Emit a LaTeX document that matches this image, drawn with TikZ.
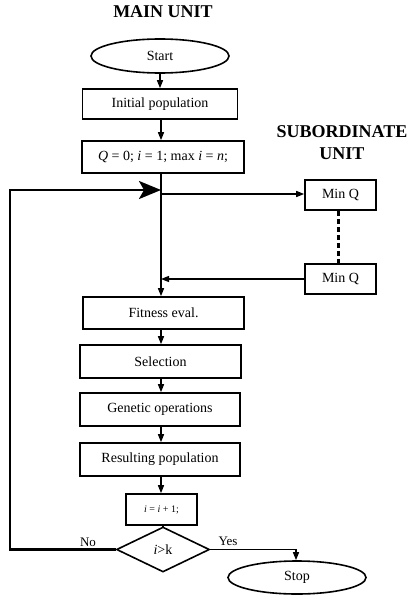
\documentclass[tikz,border=0pt]{standalone}
\usepackage{fontspec}
\setmainfont{Liberation Serif}
\usetikzlibrary{shapes.geometric,arrows.meta}
\begin{document}
\begin{tikzpicture}[x=1pt,y=-1pt,
  txt/.style={font=\fontsize{14}{16}\selectfont},
  box/.style={draw, line width=1.6pt, inner sep=0pt, txt},
  oval/.style={draw, ellipse, line width=1.6pt, inner sep=0pt, txt},
  dia/.style={draw, diamond, line width=1.6pt, inner sep=0pt, txt},
  title/.style={font=\fontsize{18}{22}\selectfont\bfseries, align=center},
  conn/.style={line width=1.3pt, -{Triangle[length=8pt,width=6pt]}},
  plain/.style={line width=1.3pt},
  lbl/.style={font=\fontsize{13}{15}\selectfont}
]
\useasboundingbox (0,0) rectangle (411,599);

\node[title] (t1) at (163,12) {MAIN UNIT};
\node[title] (t2) at (342,143) {SUBORDINATE\\UNIT};

\node[oval, minimum width=138pt, minimum height=34pt] (start) at (160,56) {Start};
\node[box, minimum width=155pt, minimum height=30pt] (init) at (160,104) {Initial population};
\node[box, minimum width=162pt, minimum height=32pt] (q) at (163,157) {\textit{Q} = 0; \textit{i} = 1; max \textit{i} = \textit{n};};
\node[box, minimum width=71pt, minimum height=30pt] (m1) at (340.5,195) {Min Q};
\node[box, minimum width=71pt, minimum height=30pt] (m2) at (340.5,279) {Min Q};
\node[box, minimum width=161pt, minimum height=32pt] (fit) at (163.5,313) {Fitness eval.};
\node[box, minimum width=161pt, minimum height=33pt] (sel) at (160.5,361.5) {Selection};
\node[box, minimum width=160pt, minimum height=33pt] (gen) at (160,409.5) {Genetic operations};
\node[box, minimum width=160pt, minimum height=33pt] (res) at (160,459.5) {Resulting population};
\node[box, minimum width=71pt, minimum height=31pt, font=\fontsize{10}{12}\selectfont] (inc) at (161.5,509.5) {\textit{i} = \textit{i} + 1;};
\node[dia, minimum width=93pt, minimum height=45pt] (d) at (163,549.5) {\textit{i}>k};
\node[oval, minimum width=138pt, minimum height=33pt] (stop) at (297,577.5) {Stop};

\coordinate (j1) at (161,194);
\coordinate (j2) at (161,279);
\coordinate (fb) at (161,190);
\coordinate (c1) at (10,549.5);
\coordinate (c2) at (10,190);
\coordinate (c3) at (296,549.5);

\draw[conn] (start.south -| 160,0) -- (init.north -| 160,0);
\draw[conn] (init.south -| 161,0) -- (q.north -| 161,0);
\draw[conn] (q.south -| j1) -- (fit.north -| j1);
\draw[conn] (j1) -- (m1.west |- j1);
\draw[conn] (m2.west) -- (j2);
\draw[line width=3pt, dash pattern=on 5pt off 3pt] (m1.south -| 338,0) -- (m2.north -| 338,0);
\draw[conn] (fit.south -| 161,0) -- (sel.north -| 161,0);
\draw[conn] (sel.south -| 161,0) -- (gen.north -| 161,0);
\draw[conn] (gen.south -| 161,0) -- (res.north -| 161,0);
\draw[conn] (res.south -| 161,0) -- (inc.north -| 161,0);
\draw[plain] (inc.south -| d.north) -- (d.north);
\draw[line width=2.6pt, -{Stealth[length=22pt,width=18pt,inset=5pt]}] (d.west) -- (c1) -- (c2) -- (fb);
\draw[conn] (d.east) -- (c3) -- (stop.north -| c3);

\node[lbl] (no) at (88,542) {No};
\node[lbl] (yes) at (228,541) {Yes};
\end{tikzpicture}
\end{document}
